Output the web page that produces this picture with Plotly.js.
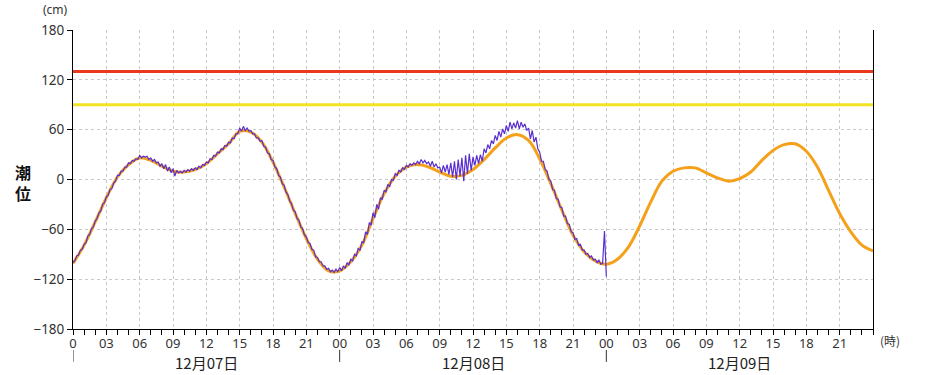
<!DOCTYPE html>
<html>
<head>
<meta charset="utf-8">
<script src="https://cdn.plot.ly/plotly-3.0.1.min.js"></script>
<style>html,body{margin:0;padding:0;background:#fff;}#chart{width:938px;height:375px;}</style>
</head>
<body>
<div id="chart"></div>
<script>
// Predicted tide (cm), hourly, 12/07 00:00 .. 12/10 00:00
const predicted = [
  -101, -79, -51, -22, 3, 18, 26, 23, 16, 10, 9, 12,
  19, 31, 43, 58, 57, 45, 21, -9, -41, -71, -96, -110,
  -110, -99, -79, -47, -17, 4, 15, 18, 15, 9, 4, 5,
  12, 24, 38, 50, 54, 47, 25, -5, -37, -67, -87, -98,
  -102, -96, -81, -56, -27, -2, 10, 14, 14, 8, 2, -2,
  1, 9, 23, 35, 42, 43, 34, 15, -13, -41, -63, -79,
  -86
];
// Observed tide (cm), every 10 minutes, 12/07 00:00 .. 12/09 00:00
const observed = [
  -100,-98,-92,-91,-85,-84,
  -78,-76,-68,-66,-59,-57,
  -50,-47,-40,-38,-30,-28,
  -21,-19,-12,-11,-4,-2,
  5,5,10,10,15,15,
  20,19,23,22,25,24,
  29,26,28,27,28,24,
  26,22,24,20,21,16,
  19,13,18,10,15,8,
  13,4,11,8,10,8,
  11,9,12,10,13,11,
  14,12,16,14,18,17,
  21,20,25,24,29,28,
  33,32,37,36,41,40,
  45,44,50,49,55,55,
  62,58,64,59,62,58,
  59,55,55,50,50,46,
  47,40,39,32,31,24,
  23,15,13,5,3,-5,
  -7,-15,-18,-26,-29,-37,
  -39,-47,-49,-57,-59,-67,
  -69,-76,-77,-84,-85,-93,
  -94,-99,-99,-104,-104,-108,
  -107,-111,-109,-112,-108,-111,
  -106,-110,-104,-107,-100,-103,
  -96,-98,-90,-92,-83,-85,
  -75,-76,-63,-66,-52,-55,
  -40,-46,-30,-36,-22,-24,
  -13,-15,-6,-9,0,-1,
  7,5,11,9,14,12,
  17,15,19,17,20,18,
  22,19,24,20,23,19,
  21,16,22,15,19,14,
  15,8,17,9,18,6,
  20,3,22,0,24,4,
  26,-2,29,7,31,11,
  27,17,29,19,30,22,
  37,32,42,37,47,43,
  53,47,58,51,61,55,
  65,58,69,61,68,62,
  71,61,69,63,67,59,
  62,49,59,45,51,37,
  33,22,22,12,10,0,
  -2,-12,-13,-23,-24,-33,
  -34,-44,-44,-53,-54,-63,
  -64,-72,-71,-79,-78,-85,
  -85,-90,-89,-94,-92,-97,
  -96,-100,-97,-102,-101,-62,
  -117
];
const alertLevel = 130;   // red
const cautionLevel = 90;  // yellow
const days = ["12月07日", "12月08日", "12月09日"];
const hourLabels = ["0","03","06","09","12","15","18","21",
                    "00","03","06","09","12","15","18","21",
                    "00","03","06","09","12","15","18","21"];
const yTicks = [-180, -120, -60, 0, 60, 120, 180];

const predX = predicted.map((_, i) => i);
const obsX = observed.map((_, i) => i / 6);
const tickVals = hourLabels.map((_, i) => i * 3);

const font = "'Noto Sans', 'Noto Sans CJK JP', sans-serif";
const cjk = "'Noto Sans CJK JP', 'Noto Sans', sans-serif";

const traces = [
  {x: [0, 72], y: [alertLevel, alertLevel], mode: 'lines', line: {color: '#E8381E', width: 3}, hoverinfo: 'skip'},
  {x: [0, 72], y: [cautionLevel, cautionLevel], mode: 'lines', line: {color: '#F2E424', width: 3}, hoverinfo: 'skip'},
  {x: predX, y: predicted, mode: 'lines', line: {color: '#F5A01A', width: 3, shape: 'spline', smoothing: 1}},
  {x: obsX, y: observed, mode: 'lines', line: {color: '#5A2FD0', width: 1.2}}
];

const shapes = days.map((d, i) => ({
  type: 'line', xref: 'x', yref: 'paper', x0: i * 24, x1: i * 24,
  y0: -0.07, y1: -0.11, line: {color: '#333', width: 1}
}));

const annotations = days.map((d, i) => ({
  text: d, xref: 'x', yref: 'paper', x: i * 24 + 12, y: -0.113,
  showarrow: false, font: {family: cjk, size: 15, color: '#222'},
  xanchor: 'center', yanchor: 'middle'
}));
annotations.push({text: '(時)', xref: 'paper', yref: 'paper', x: 1.021, y: -0.037,
  xanchor: 'center', yanchor: 'middle',
  showarrow: false, font: {family: cjk, size: 12, color: '#333'}});
annotations.push({text: '(cm)', xref: 'paper', yref: 'paper', x: -0.0225, y: 1.067,
  xanchor: 'center', yanchor: 'middle',
  showarrow: false, font: {family: font, size: 12, color: '#333'}});
annotations.push({text: '<b>潮</b><br><b>位</b>', xref: 'paper', yref: 'paper', x: -0.0625, y: 0.49,
  xanchor: 'center', yanchor: 'middle',
  showarrow: false, font: {family: cjk, size: 16, color: '#111'}});

const layout = {
  width: 938, height: 375,
  margin: {l: 73, r: 65, t: 30, b: 46},
  paper_bgcolor: '#fff', plot_bgcolor: '#fff',
  showlegend: false,
  font: {family: font, size: 13, color: '#333'},
  xaxis: {
    range: [0, 72], tickvals: tickVals, ticktext: hourLabels,
    showline: true, linecolor: '#000', linewidth: 1,
    ticks: 'outside', ticklen: 5, tickcolor: '#000',
    showgrid: true, gridcolor: '#c8c8c8', griddash: '3px,3px', gridwidth: 1,
    minor: {dtick: 1, ticks: 'outside', ticklen: 5, tickcolor: '#000', showgrid: false},
    zeroline: false, tickfont: {family: font, size: 13, color: '#333'},
    ticklabelstandoff: -3
  },
  yaxis: {
    range: [-180, 180], tickvals: yTicks,
    showline: true, mirror: true, linecolor: '#000', linewidth: 1,
    ticks: 'outside', ticklen: 5, tickcolor: '#000',
    showgrid: true, gridcolor: '#c8c8c8', griddash: '3px,3px', gridwidth: 1,
    zeroline: false, tickfont: {family: font, size: 13.5, color: '#333'}
  },
  shapes: shapes,
  annotations: annotations
};

Plotly.newPlot('chart', traces, layout, {displayModeBar: false, staticPlot: true});
</script>
</body>
</html>
